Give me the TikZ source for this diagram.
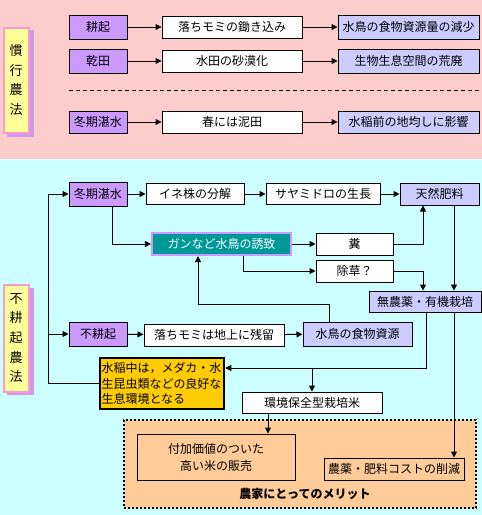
\documentclass[tikz,border=0pt]{standalone}
\usepackage{fontspec}
\setmainfont{Noto Sans CJK JP}
\usetikzlibrary{arrows.meta}
\definecolor{bgpink}{HTML}{FFCCCC}
\definecolor{bgcyan}{HTML}{CCFFFF}
\definecolor{purp}{HTML}{CC99FF}
\definecolor{lav}{HTML}{CCCCFF}
\definecolor{tealc}{HTML}{009999}
\definecolor{lblyel}{HTML}{FFFF99}
\definecolor{lblpink}{HTML}{FF99CC}
\definecolor{lblshadow}{HTML}{CC99EE}
\definecolor{gold}{HTML}{FFCC00}
\definecolor{orng}{HTML}{FFCC99}
\begin{document}
\begin{tikzpicture}[x=1pt,y=-1pt,
 font=\fontsize{12}{14}\selectfont,
 box/.style={draw=black,line width=1pt,inner sep=0pt,align=center},
 purpbox/.style={box,fill=purp,minimum width=58pt},
 whitebox/.style={box,fill=white},
 lavbox/.style={box,fill=lav},
 arr/.style={line width=1pt,-{Triangle[length=6pt,width=6pt]}},
 ln/.style={line width=1pt},
 lbl/.style={draw=lblpink,line width=2pt,fill=lblyel,minimum width=25pt,inner sep=0pt,align=center,font=\fontsize{13}{19.6}\selectfont},
]
\useasboundingbox (0,0) rectangle (482,515);
\fill[bgpink] (0,0) rectangle (482,159);
\fill[bgcyan] (0,159) rectangle (482,515);

% ---------- top section ----------
\fill[lblshadow] (7,30) rectangle (34,137);
\node[lbl,minimum height=105pt] (lab1) at (16,80) {慣\\行\\農\\法};

\node[purpbox,minimum height=24pt] (a1) at (98,27) {耕起};
\node[whitebox,minimum width=140pt,minimum height=22pt] (a2) at (232,27) {落ちモミの鋤き込み};
\node[lavbox,minimum width=141pt,minimum height=24pt] (a3) at (408.5,27) {水鳥の食物資源量の減少};
\node[purpbox,minimum height=24pt] (b1) at (98,61) {乾田};
\node[whitebox,minimum width=140pt,minimum height=22pt] (b2) at (232,61) {水田の砂漠化};
\node[lavbox,minimum width=141pt,minimum height=24pt] (b3) at (408.5,61) {生物生息空間の荒廃};
\coordinate (dl1) at (69,90);
\coordinate (dl2) at (479,90);
\draw[ln,dashed,dash pattern=on 4pt off 3pt] (dl1) -- (dl2);
\node[purpbox,minimum height=22pt] (c1) at (98,122) {冬期湛水};
\node[whitebox,minimum width=140pt,minimum height=22pt] (c2) at (232,122) {春には泥田};
\node[lavbox,minimum width=141pt,minimum height=22pt] (c3) at (408.5,122) {水稲前の地均しに影響};
\draw[arr] (a1) -- (a2);
\draw[arr] (a2) -- (a3);
\draw[arr] (b1) -- (b2);
\draw[arr] (b2) -- (b3);
\draw[arr] (c1) -- (c2);
\draw[arr] (c2) -- (c3);

% ---------- bottom section ----------
\fill[lblshadow] (7,288) rectangle (34,395);
\node[lbl,minimum height=107pt] (lab2) at (16,338) {不\\耕\\起\\農\\法};

\node[purpbox,minimum height=24pt] (d1) at (98,194) {冬期湛水};
\node[whitebox,minimum width=98pt,minimum height=21pt] (d2) at (195,194) {イネ株の分解};
\node[whitebox,minimum width=114pt,minimum height=21pt] (d3) at (323,194) {サヤミドロの生長};
\node[lavbox,minimum width=79pt,minimum height=22pt] (d4) at (439.5,194) {天然肥料};
\node[draw=purp,line width=2.2pt,fill=tealc,text=white,minimum width=139pt,minimum height=22pt,inner sep=0pt] (e1) at (221.5,244) {ガンなど水鳥の誘致};
\node[whitebox,minimum width=77pt,minimum height=22pt] (e2) at (354.5,244) {糞};
\node[whitebox,minimum width=77pt,minimum height=22pt] (e3) at (354.5,271) {除草？};
\node[lavbox,minimum width=112pt,minimum height=21pt] (f) at (425,301.5) {無農薬・有機栽培};
\node[purpbox,minimum height=24pt] (g1) at (98,334) {不耕起};
\node[whitebox,minimum width=140pt,minimum height=22pt] (g2) at (214,335) {落ちモミは地上に残留};
\node[lavbox,minimum width=109pt,minimum height=24pt] (g3) at (357.5,334) {水鳥の食物資源};
\node[draw=black,line width=2.5pt,fill=gold,minimum width=124pt,minimum height=51pt,inner sep=1.5pt,text width=121pt,align=left,font=\fontsize{12}{15.5}\selectfont] (h) at (162,383.5) {水稲中は，メダカ・水\\生昆虫類などの良好な\\生息環境となる};
\node[whitebox,minimum width=140pt,minimum height=21pt] (i) at (312,402.5) {環境保全型栽培米};
\node[draw=black,fill=orng,line width=2pt,dash pattern=on 2pt off 2pt,minimum width=352pt,minimum height=88pt,inner sep=0pt] (merit) at (300,464) {};
\node[box,minimum width=158pt,minimum height=46pt,font=\fontsize{12}{17}\selectfont] (j) at (216,457) {付加価値のついた\\高い米の販売};
\node[box,minimum width=140pt,minimum height=22pt] (k) at (394,469) {農薬・肥料コストの削減};
\node[font=\bfseries\fontsize{12}{14}\selectfont] (mt) at (305,494) {農家にとってのメリット};

% helper coordinates
\coordinate (x48) at (48,0);
\coordinate (x112) at (112,0);
\coordinate (x243) at (243,0);
\coordinate (x423) at (423,0);
\coordinate (x454) at (454,0);
\coordinate (x268) at (268,0);
\coordinate (x329) at (329,0);
\coordinate (x198) at (198,0);
\coordinate (y304) at (0,304);
\coordinate (m1) at (426,368);
\coordinate (m2) at (312,368);

% connectors
\draw[arr] (d1) -- (d2);
\draw[arr] (d2) -- (d3);
\draw[arr] (d3) -- (d4);
\draw[arr] (d1.south -| x112) |- (e1.west);
\draw[arr] (e1) -- (e2);
\draw[arr] (e2.east) -| (d4.south -| x423);
\draw[arr] (e1.south -| x243) |- (e3.west);
\draw[arr] (e3.east) -| (f.north -| x423);
\draw[arr] (d4.south -| x454) -- (f.north -| x454);
\draw[arr] (g1) -- (g2);
\draw[arr] (g2) -- (g3);
\draw[arr] (g3.north -| x329) -- (x329 |- y304) -- (x198 |- y304) -- (e1.south -| x198);
\draw[arr] (f.south -| m1) -- (m1) -- (h.east |- m1);
\draw[arr] (m2) -- (i.north);
\draw[arr] (f.south -| x454) -- (k.north -| x454);
\draw[arr] (i.south -| x268) -- (j.north -| x268);
\draw[ln] (h.west) -- (h.west -| x48) -- (x48 |- d1.west);
\draw[arr] (x48 |- d1.west) -- (d1.west);
\draw[arr] (x48 |- g1.west) -- (g1.west);
\end{tikzpicture}
\end{document}
